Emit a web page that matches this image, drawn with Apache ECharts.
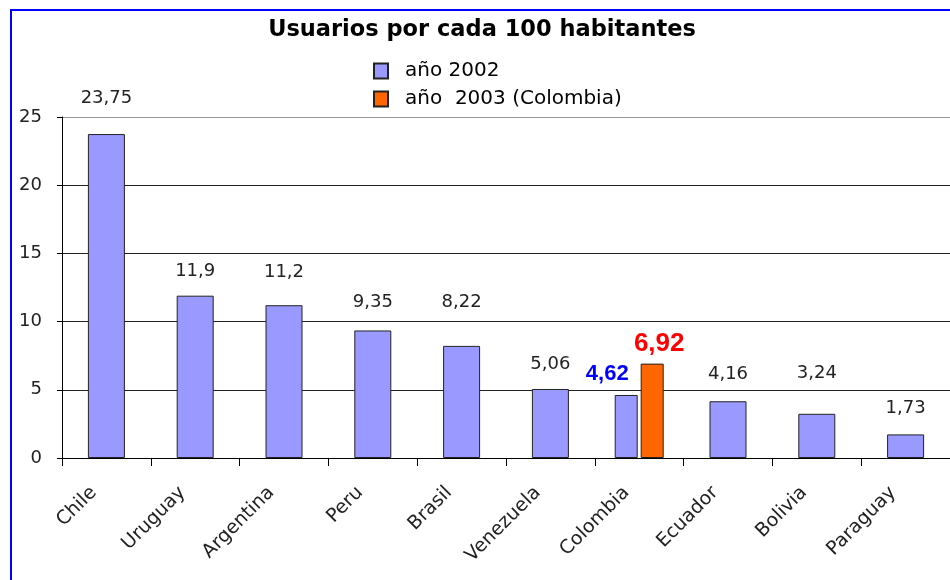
<!DOCTYPE html>
<html>
<head>
<meta charset="utf-8">
<script src="https://cdn.jsdelivr.net/npm/echarts@6/dist/echarts.min.js"></script>
<style>html,body{margin:0;padding:0;background:#fff;overflow:hidden;}#c{width:950px;height:580px;}</style>
</head>
<body>
<div id="c"></div>
<script>
const categories = ['Chile','Uruguay','Argentina','Peru','Brasil','Venezuela','Colombia','Ecuador','Bolivia','Paraguay'];
const values2002 = [23.75, 11.9, 11.2, 9.35, 8.22, 5.06, 4.62, 4.16, 3.24, 1.73];
const values2003 = [null, null, null, null, null, null, 6.92, null, null, null];
const splitCategory = 'Colombia';
const yTicks = [0, 5, 10, 15, 20, 25];
const seriesNames = ['año 2002', 'año  2003 (Colombia)'];

// label distances (style only)
const labelDistance = [27, 15, 24, 19, 35, 16, 10, 18, 31, 17];

const FONT = 'DejaVu Sans';
const fmt = v => String(v).replace('.', ',');
const splitIdx = categories.indexOf(splitCategory);

const mainData = values2002.map((v, i) => i === splitIdx ? '-' : {
  value: v,
  label: { show: true, position: 'top', distance: labelDistance[i], formatter: p => fmt(p.value),
    color: '#222', fontFamily: FONT, fontSize: 18 }
});
const col2002 = values2002.map((v, i) => i !== splitIdx ? '-' : {
  value: v,
  label: { show: true, position: 'top', distance: labelDistance[i], offset: [-19, 0], formatter: p => fmt(p.value),
    color: '#0000FF', fontFamily: 'Liberation Sans', fontWeight: 'bold', fontSize: 22 }
});
const col2003 = values2003.map((v, i) => v == null ? '-' : {
  value: v,
  label: { show: true, position: 'top', distance: 7, offset: [7, 0], formatter: p => fmt(p.value),
    color: '#FF0000', fontFamily: 'Liberation Sans', fontWeight: 'bold', fontSize: 26 }
});

const purple = '#9999FF', orange = '#FF6600', edge = '#222';

const chart = echarts.init(document.getElementById('c'));
chart.setOption({
  backgroundColor: '#fff',
  animation: false,
  title: {
    text: 'Usuarios por cada 100 habitantes',
    left: 477, textAlign: 'center', top: 14,
    textStyle: { fontFamily: FONT, fontWeight: 'bold', fontSize: 22.5, color: '#000' }
  },
  legend: {
    orient: 'vertical', left: 368, top: 56,
    itemWidth: 14, itemHeight: 15, itemGap: 8,
    icon: 'rect',
    data: seriesNames,
    textStyle: { fontFamily: FONT, fontSize: 20, lineHeight: 20, color: '#000', padding: [0, 0, 0, 12] }
  },
  grid: { left: 62, top: 117, width: 889, height: 341, containLabel: false },
  xAxis: [{
    type: 'category', data: categories,
    axisLine: { lineStyle: { color: '#000', width: 1 } },
    axisTick: { show: true, length: 8, lineStyle: { color: '#000' } },
    axisLabel: { rotate: 45, margin: 19, padding: [0, 18, 0, 0], fontFamily: FONT, fontSize: 19, color: '#222', interval: 0 }
  }, {
    type: 'category', data: categories, show: false
  }],
  yAxis: {
    type: 'value', min: yTicks[0], max: yTicks[yTicks.length - 1], interval: 5,
    axisLine: { show: true, lineStyle: { color: '#000' } },
    axisTick: { show: true, length: 5, lineStyle: { color: '#000' } },
    axisLabel: { margin: 20, fontFamily: FONT, fontSize: 18, color: '#222' },
    splitLine: { show: true, lineStyle: { color: ['#222', '#222', '#222', '#222', '#222', '#999'], width: 1 } }
  },
  series: [{
    name: seriesNames[0], type: 'bar', xAxisIndex: 0, barWidth: 37,
    itemStyle: { color: purple, borderColor: edge, borderWidth: 1 },
    data: mainData
  }, {
    name: seriesNames[0], type: 'bar', xAxisIndex: 1, barWidth: 23, barGap: '13%',
    itemStyle: { color: purple, borderColor: edge, borderWidth: 1 },
    data: col2002
  }, {
    name: seriesNames[1], type: 'bar', xAxisIndex: 1, barWidth: 23, barGap: '13%',
    itemStyle: { color: orange, borderColor: edge, borderWidth: 1 },
    data: col2003
  }],
  graphic: [{
    type: 'line', silent: true, z: 100,
    shape: { x1: 11, y1: 10, x2: 11, y2: 600 },
    style: { stroke: '#0000FF', lineWidth: 2 }
  }, {
    type: 'line', silent: true, z: 100,
    shape: { x1: 10, y1: 10, x2: 950, y2: 10 },
    style: { stroke: '#0000FF', lineWidth: 2 }
  }]
});
</script>
</body>
</html>
